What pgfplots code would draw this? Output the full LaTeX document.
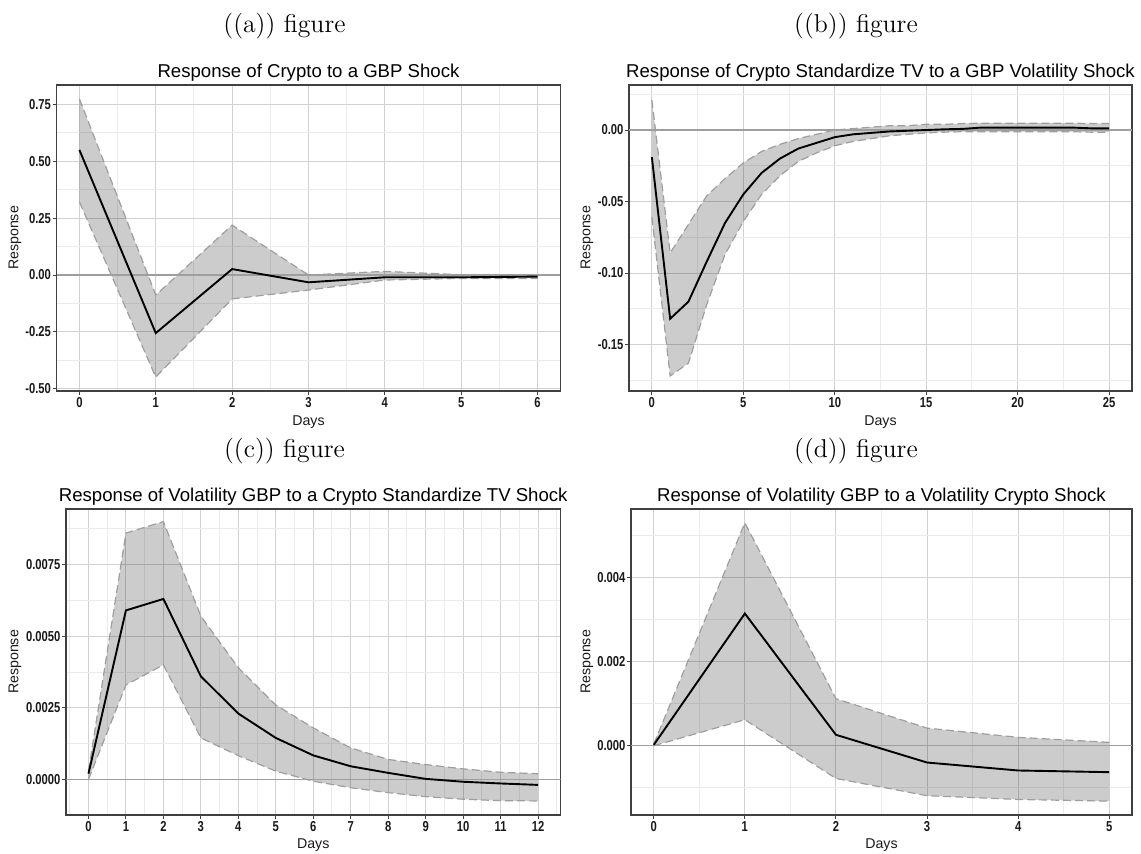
\documentclass[border=0pt]{standalone}
\usepackage{fontspec}
\usepackage{pgfplots}
\usepackage{pgfplotstable}
\pgfplotsset{compat=1.18}
\newfontfamily\arialfont{Liberation Sans}
\newfontfamily\tickfont[FakeStretch=0.78]{Liberation Sans}

% response (y), upper (up) and lower (lo) bounds
\pgfplotstableread{
x y up lo
0 0.549 0.773 0.321
1 -0.255 -0.088 -0.448
2 0.026 0.219 -0.105
3 -0.032 0.000 -0.066
4 -0.010 0.016 -0.022
5 -0.010 0.001 -0.015
6 -0.007 0.000 -0.015
}\tabA
% band outline: upper forward, lower backward
\pgfplotstableread{
x b
0 0.773
1 -0.088
2 0.219
3 0.000
4 0.016
5 0.001
6 0.000
6 -0.015
5 -0.015
4 -0.022
3 -0.066
2 -0.105
1 -0.448
0 0.321
}\bandA

\pgfplotstableread{
x y up lo
0 -0.019 0.021 -0.061
1 -0.132 -0.086 -0.172
2 -0.120 -0.066 -0.163
3 -0.092 -0.046 -0.122
4 -0.065 -0.034 -0.087
5 -0.045 -0.023 -0.064
6 -0.030 -0.015 -0.045
7 -0.020 -0.010 -0.032
8 -0.013 -0.006 -0.022
9 -0.009 -0.003 -0.016
10 -0.005 0.000 -0.011
11 -0.003 0.001 -0.008
12 -0.002 0.002 -0.006
13 -0.001 0.003 -0.004
14 -0.0005 0.003 -0.003
15 0.000 0.004 -0.002
16 0.0005 0.004 -0.0015
17 0.0008 0.0045 -0.0012
18 0.0017 0.0048 -0.0012
19 0.0017 0.0048 -0.0012
20 0.0017 0.0048 -0.0012
21 0.0017 0.0048 -0.0012
22 0.0017 0.0048 -0.0012
23 0.0017 0.0048 -0.0012
24 0.0012 0.0045 -0.0015
25 0.0012 0.0045 -0.0015
}\tabB
\pgfplotstableread{
x b
0 0.021
1 -0.086
2 -0.066
3 -0.046
4 -0.034
5 -0.023
6 -0.015
7 -0.010
8 -0.006
9 -0.003
10 0.000
11 0.001
12 0.002
13 0.003
14 0.003
15 0.004
16 0.004
17 0.0045
18 0.0048
19 0.0048
20 0.0048
21 0.0048
22 0.0048
23 0.0048
24 0.0045
25 0.0045
25 -0.0015
24 -0.0015
23 -0.0012
22 -0.0012
21 -0.0012
20 -0.0012
19 -0.0012
18 -0.0012
17 -0.0012
16 -0.0015
15 -0.002
14 -0.003
13 -0.004
12 -0.006
11 -0.008
10 -0.011
9 -0.016
8 -0.022
7 -0.032
6 -0.045
5 -0.064
4 -0.087
3 -0.122
2 -0.163
1 -0.172
0 -0.061
}\bandB

\pgfplotstableread{
x y up lo
0 0.0002 0.0003 0.0000
1 0.0059 0.0086 0.0033
2 0.0063 0.0090 0.0040
3 0.0036 0.0057 0.00145
4 0.0023 0.0039 0.00083
5 0.00145 0.0026 0.00029
6 0.00084 0.0018 -0.00006
7 0.00046 0.0011 -0.00029
8 0.00023 0.0007 -0.00046
9 0.00002 0.00052 -0.0006
10 -0.00008 0.00037 -0.00069
11 -0.00014 0.00025 -0.00074
12 -0.00019 0.0002 -0.00075
}\tabC
\pgfplotstableread{
x b
0 0.0003
1 0.0086
2 0.0090
3 0.0057
4 0.0039
5 0.0026
6 0.0018
7 0.0011
8 0.0007
9 0.00052
10 0.00037
11 0.00025
12 0.0002
12 -0.00075
11 -0.00074
10 -0.00069
9 -0.0006
8 -0.00046
7 -0.00029
6 -0.00006
5 0.00029
4 0.00083
3 0.00145
2 0.0040
1 0.0033
0 0.0000
}\bandC

\pgfplotstableread{
x y up lo
0 0.00002 0.00004 0.0
1 0.00315 0.00531 0.00062
2 0.00026 0.00112 -0.00078
3 -0.0004 0.00042 -0.00119
4 -0.00059 0.0002 -0.00128
5 -0.00063 0.00008 -0.00132
}\tabD
\pgfplotstableread{
x b
0 0.00004
1 0.00531
2 0.00112
3 0.00042
4 0.0002
5 0.00008
5 -0.00132
4 -0.00128
3 -0.00119
2 -0.00078
1 0.00062
0 0.0
}\bandD

\pgfplotsset{
  irf/.style={
    scale only axis,
    anchor=south west,
    axis line style={black!75, line width=0.55pt},
    tick pos=left, tick align=outside,
    major tick length=2pt, minor tick length=0pt,
    every tick/.append style={black!75, line width=0.5pt},
    grid=both,
    major grid style={black!18, line width=0.5pt},
    minor grid style={black!8, line width=0.5pt},
    scaled ticks=false,
    tick label style={font=\fontsize{7.2}{8}\tickfont\bfseries, text=black!90},
    xticklabel style={inner sep=1.2pt},
    yticklabel style={inner sep=0.6pt},
    xlabel={Days}, ylabel={Response},
    label style={font=\fontsize{7.1}{8}\arialfont, text=black!90},
    title style={font=\fontsize{9.3}{11}\arialfont, at={(axis description cs:0.5,1.0245)}, anchor=base, yshift=-6pt},
  },
  myband/.style={draw=none, fill=black, fill opacity=0.2},
  mybound/.style={black!38, line width=0.6pt, dash pattern=on 4pt off 2pt},
  myresp/.style={black, line width=0.95pt},
  myzero/.style={black!38, line width=0.7pt},
}

\begin{document}
\begin{tikzpicture}
\path[use as bounding box] (0pt,0pt) rectangle (570.5pt,427pt);

\node[font=\fontsize{12.9}{15}\selectfont] at (142.25pt,414pt) {((a)) figure};
\node[font=\fontsize{12.9}{15}\selectfont] at (428pt,414pt) {((b)) figure};
\node[font=\fontsize{12.9}{15}\selectfont] at (142.25pt,201.5pt) {((c)) figure};
\node[font=\fontsize{12.9}{15}\selectfont] at (428pt,201.5pt) {((d)) figure};

% (a)
\begin{axis}[irf, at={(28.25pt,231.5pt)}, width=252pt, height=153pt,
  title={Response of Crypto to a GBP Shock},
  xmin=-0.3, xmax=6.3, ymin=-0.509, ymax=0.834,
  xtick={0,1,2,3,4,5,6}, xticklabels={0,1,2,3,4,5,6},
  ytick={-0.5,-0.25,0,0.25,0.5,0.75},
  yticklabels={-0.50,-0.25,0.00,0.25,0.50,0.75},
  minor xtick={0.5,1.5,2.5,3.5,4.5,5.5},
  minor ytick={-0.375,-0.125,0.125,0.375,0.625},
  xlabel style={at={(axis description cs:0.5,-0.1144)}, anchor=base},
  ylabel style={at={(axis description cs:-0.0823,0.5)}, anchor=center},
]
\addplot[myband] table[x=x,y=b]{\bandA} -- cycle;
\addplot[myzero] coordinates {(-0.3,0) (6.3,0)};
\addplot[mybound] table[x=x,y=up]{\tabA};
\addplot[mybound] table[x=x,y=lo]{\tabA};
\addplot[myresp] table[x=x,y=y]{\tabA};
\end{axis}

% (b)
\begin{axis}[irf, at={(314.5pt,231.5pt)}, width=251.5pt, height=153pt,
  title={Response of Crypto Standardize TV to a GBP Volatility Shock},
  xmin=-1.25, xmax=26.25, ymin=-0.1825, ymax=0.0315,
  xtick={0,5,10,15,20,25}, xticklabels={0,5,10,15,20,25},
  ytick={-0.15,-0.1,-0.05,0},
  yticklabels={-0.15,-0.10,-0.05,0.00},
  minor xtick={2.5,7.5,12.5,17.5,22.5},
  minor ytick={-0.175,-0.125,-0.075,-0.025,0.025},
  xlabel style={at={(axis description cs:0.5,-0.1144)}, anchor=base},
  ylabel style={at={(axis description cs:-0.0835,0.5)}, anchor=center},
]
\addplot[myband] table[x=x,y=b]{\bandB} -- cycle;
\addplot[myzero] coordinates {(-1.25,0) (26.25,0)};
\addplot[mybound] table[x=x,y=up]{\tabB};
\addplot[mybound] table[x=x,y=lo]{\tabB};
\addplot[myresp] table[x=x,y=y]{\tabB};
\end{axis}

% (c)
\begin{axis}[irf, at={(33pt,19.5pt)}, width=247.25pt, height=153pt,
  title={Response of Volatility GBP to a Crypto Standardize TV Shock},
  xmin=-0.6, xmax=12.6, ymin=-0.00124, ymax=0.00944,
  xtick={0,1,2,3,4,5,6,7,8,9,10,11,12},
  xticklabels={0,1,2,3,4,5,6,7,8,9,10,11,12},
  ytick={0,0.0025,0.005,0.0075},
  yticklabels={0.0000,0.0025,0.0050,0.0075},
  minor xtick={-0.5,0.5,1.5,2.5,3.5,4.5,5.5,6.5,7.5,8.5,9.5,10.5,11.5,12.5},
  minor ytick={0.00125,0.00375,0.00625,0.00875},
  xlabel style={at={(axis description cs:0.5,-0.111)}, anchor=base},
  ylabel style={at={(axis description cs:-0.1031,0.5)}, anchor=center},
]
\addplot[myband] table[x=x,y=b]{\bandC} -- cycle;
\addplot[myzero] coordinates {(-0.6,0) (12.6,0)};
\addplot[mybound] table[x=x,y=up]{\tabC};
\addplot[mybound] table[x=x,y=lo]{\tabC};
\addplot[myresp] table[x=x,y=y]{\tabC};
\end{axis}

% (d)
\begin{axis}[irf, at={(315.5pt,19.5pt)}, width=250.5pt, height=153pt,
  title={Response of Volatility GBP to a Volatility Crypto Shock},
  xmin=-0.25, xmax=5.25, ymin=-0.00165, ymax=0.00564,
  xtick={0,1,2,3,4,5}, xticklabels={0,1,2,3,4,5},
  ytick={0,0.002,0.004},
  yticklabels={0.000,0.002,0.004},
  minor xtick={0.5,1.5,2.5,3.5,4.5},
  minor ytick={-0.001,0.001,0.003,0.005},
  xlabel style={at={(axis description cs:0.5,-0.111)}, anchor=base},
  ylabel style={at={(axis description cs:-0.0878,0.5)}, anchor=center},
]
\addplot[myband] table[x=x,y=b]{\bandD} -- cycle;
\addplot[myzero] coordinates {(-0.25,0) (5.25,0)};
\addplot[mybound] table[x=x,y=up]{\tabD};
\addplot[mybound] table[x=x,y=lo]{\tabD};
\addplot[myresp] table[x=x,y=y]{\tabD};
\end{axis}
\end{tikzpicture}
\end{document}
